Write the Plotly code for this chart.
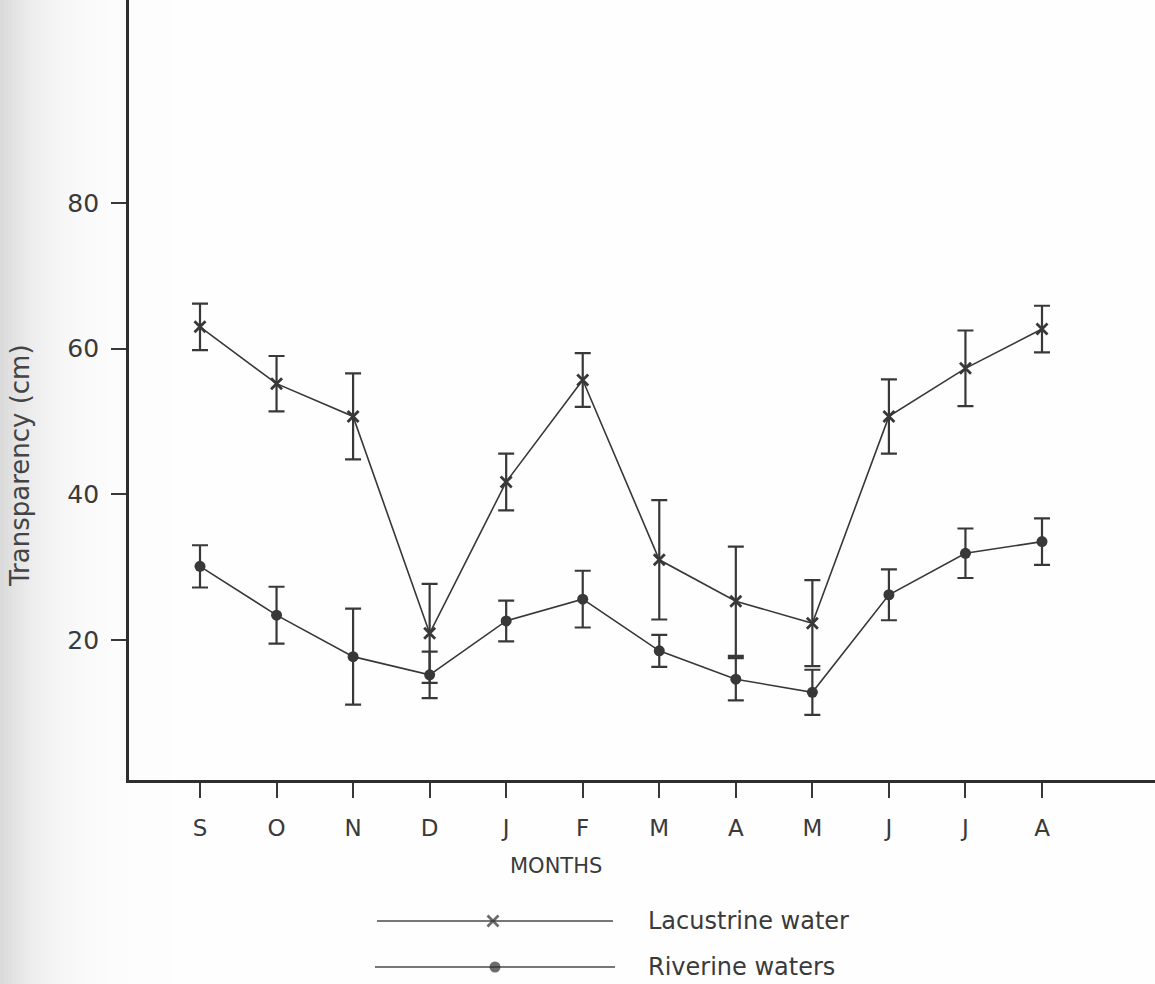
import math
import plotly.graph_objects as go

# Monthly transparency (cm), Sept -> Aug, mean and error half-width
months = ["S", "O", "N", "D", "J", "F", "M", "A", "M", "J", "J", "A"]
lacustrine = [63.0, 55.2, 50.7, 20.9, 41.7, 55.7, 31.0, 25.3, 22.3, 50.7, 57.3, 62.7]
lacustrine_err = [3.2, 3.8, 5.9, 6.8, 3.9, 3.7, 8.2, 7.5, 5.9, 5.1, 5.2, 3.2]
riverine = [30.1, 23.4, 17.7, 15.2, 22.6, 25.6, 18.5, 14.6, 12.8, 26.2, 31.9, 33.5]
riverine_err = [2.9, 3.9, 6.6, 3.2, 2.8, 3.9, 2.2, 2.9, 3.1, 3.5, 3.4, 3.2]
y_ticks = [20, 40, 60, 80]

W, H = 1155, 984
INK = "#383838"
TEXT = "#3a3a3a"
FONT = "DejaVu Sans"
x_idx = list(range(len(months)))

# pixel geometry of the main panel
left_px, bottom_px = 129, 780

fig = go.Figure()

fig.add_trace(go.Scatter(
    x=x_idx, y=lacustrine, mode="lines+markers", name="Lacustrine water",
    line=dict(color=INK, width=1.6),
    marker=dict(symbol="x-thin", size=11, line=dict(color=INK, width=2.8), color=INK),
    error_y=dict(type="data", array=lacustrine_err, visible=True,
                 color=INK, thickness=2.2, width=8),
    showlegend=False,
))
fig.add_trace(go.Scatter(
    x=x_idx, y=riverine, mode="lines+markers", name="Riverine waters",
    line=dict(color=INK, width=1.6),
    marker=dict(symbol="circle", size=11, color=INK),
    error_y=dict(type="data", array=riverine_err, visible=True,
                 color=INK, thickness=2.2, width=8),
    showlegend=False,
))

# hand-drawn key below the chart, on a pixel-scaled helper axis
key_rows = [
    ("Lacustrine water", "x-thin", 921, 377, 493, 613),
    ("Riverine waters", "circle", 967, 375, 495, 615),
]
for label, sym, ky, x0, xm, x1 in key_rows:
    fig.add_trace(go.Scatter(
        x=[x0, xm, x1], y=[ky, ky, ky], mode="lines+markers",
        xaxis="x2", yaxis="y2", showlegend=False, hoverinfo="skip",
        line=dict(color="#4a4a4a", width=1.5),
        marker=dict(symbol=sym, size=[0, 11, 0], color="#2e2e2e",
                    line=dict(color="#2e2e2e", width=2.8 if sym == "x-thin" else 0)),
    ))
    fig.add_annotation(xref="x2", yref="y2", x=646, y=ky, text=label,
                       showarrow=False, xanchor="left", yanchor="middle",
                       font=dict(family=FONT, size=24, color=TEXT))

# axis titles
fig.add_annotation(xref="paper", yref="paper", x=556 / W, y=1 - 866 / H,
                   text="MONTHS", showarrow=False, xanchor="center", yanchor="middle",
                   font=dict(family=FONT, size=21, color=TEXT))
fig.add_annotation(xref="paper", yref="paper", x=20 / W, y=1 - 466 / H,
                   text="Transparency (cm)", textangle=-90, showarrow=False,
                   xanchor="center", yanchor="middle",
                   font=dict(family=FONT, size=26, color="#444444"))

# scanned-page shading fading in from the left edge
strip = 4
for k in range(0, 170, strip):
    op = 0.15 * math.exp(-(k + strip / 2) / 40.0)
    fig.add_shape(type="rect", xref="paper", yref="paper",
                  x0=k / W, x1=(k + strip) / W, y0=0, y1=1,
                  fillcolor="#000000", opacity=op, line_width=0, layer="below")

# x range so that S sits at 200 px and A at 1042 px
step = (1042 - 200) / 11
x_lo = (left_px - 200) / step
x_hi = (W - 200) / step
# y range: 80 -> 203 px, 20 -> 640 px
ppu = 7.28
y_lo = 50 + (421.5 - bottom_px) / ppu
y_hi = 50 + 421.5 / ppu

fig.update_layout(
    width=W, height=H,
    margin=dict(l=0, r=0, t=0, b=0),
    paper_bgcolor="#fefefe", plot_bgcolor="rgba(0,0,0,0)",
    font=dict(family=FONT, color=TEXT),
    xaxis=dict(
        domain=[left_px / W, 1], range=[x_lo, x_hi],
        tickmode="array", tickvals=x_idx, ticktext=months,
        showline=True, linecolor="#2e2e2e", linewidth=2.8,
        ticks="outside", ticklen=15, tickwidth=2, tickcolor=INK,
        ticklabelstandoff=10,
        tickfont=dict(family=FONT, size=23, color=TEXT),
        showgrid=False, zeroline=False, fixedrange=True,
    ),
    yaxis=dict(
        domain=[1 - bottom_px / H, 1], range=[y_lo, y_hi],
        tickmode="array", tickvals=y_ticks,
        showline=True, linecolor="#2e2e2e", linewidth=2.8,
        ticks="outside", ticklen=15, tickwidth=2.4, tickcolor=INK,
        ticklabelstandoff=7,
        tickfont=dict(family=FONT, size=25, color=TEXT),
        showgrid=False, zeroline=False, fixedrange=True,
    ),
    xaxis2=dict(domain=[0, 1], range=[0, W], visible=False, fixedrange=True),
    yaxis2=dict(domain=[0, 1 - bottom_px / H], range=[H, bottom_px],
                visible=False, fixedrange=True),
)

fig.write_html("out.html")
